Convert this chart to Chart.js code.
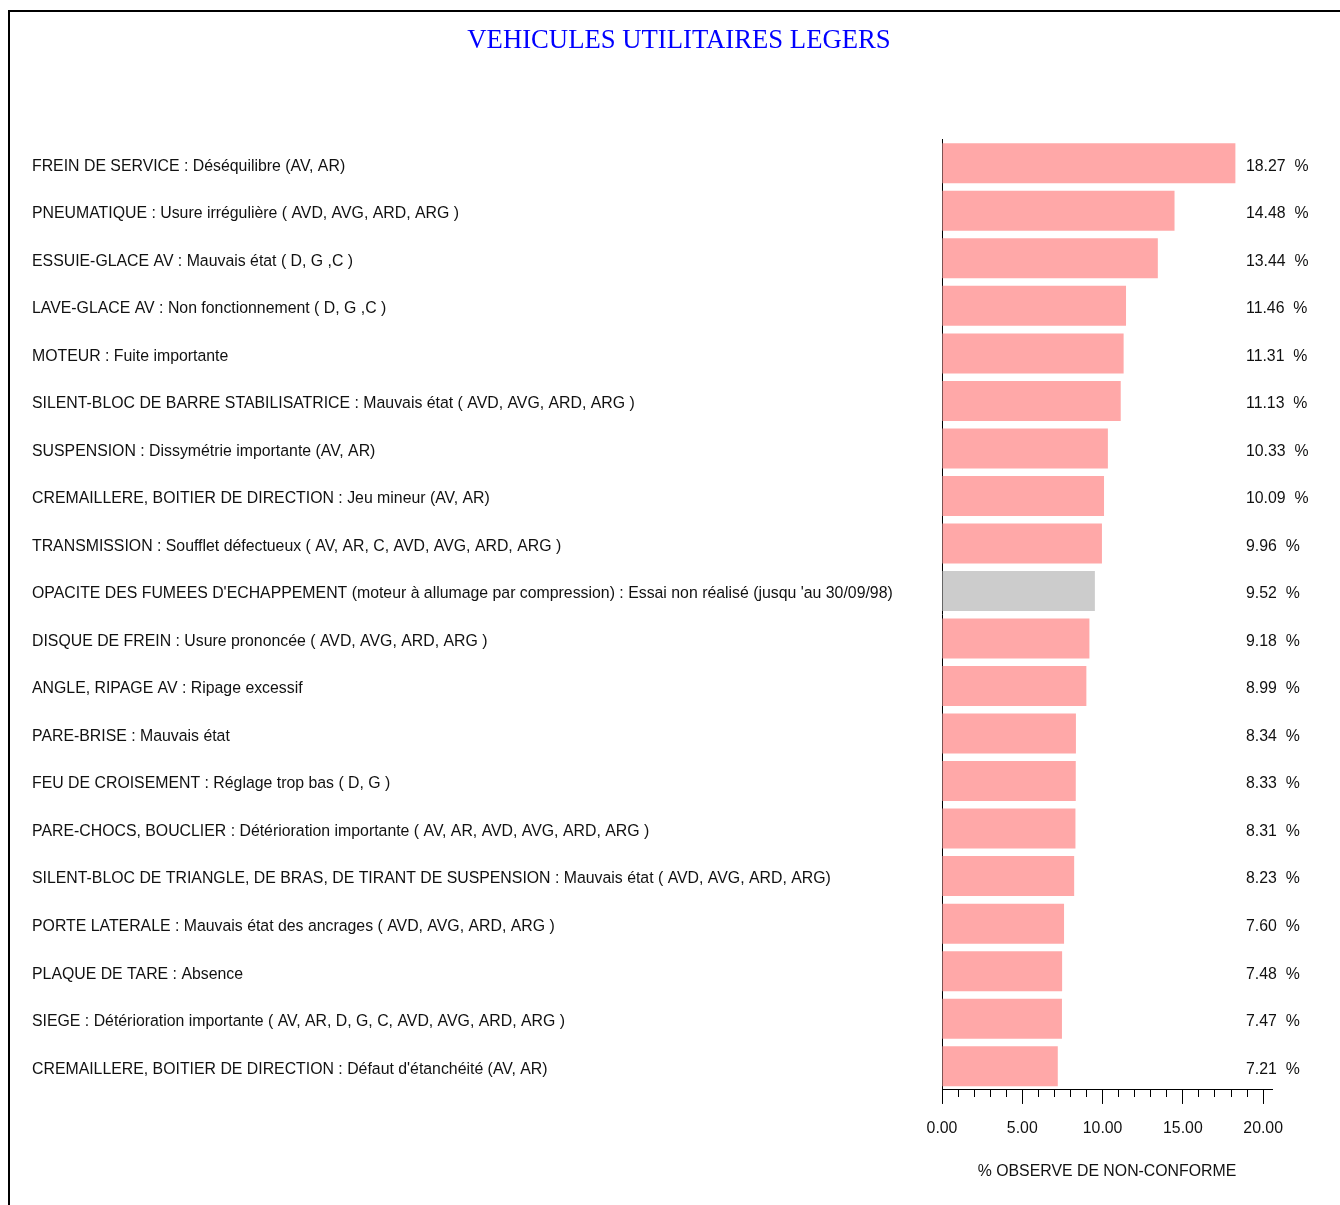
<!DOCTYPE html>
<html>
<head>
<meta charset="utf-8">
<title>Véhicules utilitaires légers</title>
<script src="https://cdn.jsdelivr.net/npm/chart.js@4/dist/chart.umd.min.js"></script>
<style>
    html, body { margin: 0; padding: 0; background: #fff; }
    #wrap { position: relative; width: 1340px; height: 1205px; }
    #frame {
        position: absolute; left: 8px; top: 10px; right: -10px; bottom: -10px;
        border-left: 2px solid #000; border-top: 2px solid #000;
    }
    #chart { position: absolute; left: 0; top: 0; }
</style>
</head>
<body>
<div id="wrap">
    <div id="frame"></div>
    <canvas id="chart" width="1340" height="1205"></canvas>
</div>
<script>
const categories = [
    'FREIN DE SERVICE : Déséquilibre (AV, AR)',
    'PNEUMATIQUE : Usure irrégulière ( AVD, AVG, ARD, ARG )',
    'ESSUIE-GLACE AV : Mauvais état ( D, G ,C )',
    'LAVE-GLACE AV : Non fonctionnement ( D, G ,C )',
    'MOTEUR : Fuite importante',
    'SILENT-BLOC DE BARRE STABILISATRICE : Mauvais état ( AVD, AVG, ARD, ARG )',
    'SUSPENSION : Dissymétrie importante (AV, AR)',
    'CREMAILLERE, BOITIER DE DIRECTION : Jeu mineur (AV, AR)',
    'TRANSMISSION : Soufflet défectueux ( AV, AR, C, AVD, AVG, ARD, ARG )',
    'OPACITE DES FUMEES D\'ECHAPPEMENT (moteur à allumage par compression) : Essai non réalisé (jusqu \'au 30/09/98)',
    'DISQUE DE FREIN : Usure prononcée ( AVD, AVG, ARD, ARG )',
    'ANGLE, RIPAGE AV : Ripage excessif',
    'PARE-BRISE : Mauvais état',
    'FEU DE CROISEMENT : Réglage trop bas ( D, G )',
    'PARE-CHOCS, BOUCLIER : Détérioration importante ( AV, AR, AVD, AVG, ARD, ARG )',
    'SILENT-BLOC DE TRIANGLE, DE BRAS, DE TIRANT DE SUSPENSION : Mauvais état ( AVD, AVG, ARD, ARG)',
    'PORTE LATERALE : Mauvais état des ancrages ( AVD, AVG, ARD, ARG )',
    'PLAQUE DE TARE : Absence',
    'SIEGE : Détérioration importante ( AV, AR, D, G, C, AVD, AVG, ARD, ARG )',
    'CREMAILLERE, BOITIER DE DIRECTION : Défaut d\'étanchéité (AV, AR)'
];
const percentages = [18.27, 14.48, 13.44, 11.46, 11.31, 11.13, 10.33, 10.09, 9.96, 9.52,
                     9.18, 8.99, 8.34, 8.33, 8.31, 8.23, 7.60, 7.48, 7.47, 7.21];
// the grey bar: test not carried out
const greyIndex = 9;
const xTickValues = [0, 5, 10, 15, 20];

const valueLabels = percentages.map(v => v.toFixed(2) + '  %');
const barColors = percentages.map((v, i) => i === greyIndex ? '#cccccc' : '#ffa8a8');

const sans = '"Liberation Sans", Arial, sans-serif';
const fontSize = 15.85;

const ctx = document.getElementById('chart').getContext('2d');

// widest value label, so the mirrored right axis can start its text 26px inside the plot
ctx.font = fontSize + 'px ' + sans;
const widest = Math.max(...valueLabels.map(t => ctx.measureText(t).width));

const chart = new Chart(ctx, {
    type: 'bar',
    data: {
        labels: categories,
        datasets: [{
            data: percentages,
            backgroundColor: barColors,
            borderWidth: 0,
            barPercentage: 0.842,
            categoryPercentage: 1,
            yAxisID: 'y'
        }]
    },
    options: {
        indexAxis: 'y',
        responsive: false,
        animation: false,
        layout: {
            padding: { left: 32, right: 14, top: 0, bottom: 24 }
        },
        scales: {
            x: {
                type: 'linear',
                min: 0,
                max: 20.55,
                border: { display: true, color: '#000', width: 1 },
                grid: {
                    drawOnChartArea: false,
                    drawTicks: true,
                    tickLength: 14,
                    tickColor: '#000',
                    tickWidth: 1,
                    // short ticks for the minor steps
                    tickBorderDash: c => (c.tick && xTickValues.includes(c.tick.value)) ? [] : [7, 40]
                },
                ticks: {
                    stepSize: 1,
                    includeBounds: false,
                    autoSkip: false,
                    maxRotation: 0,
                    padding: 15,
                    color: '#111',
                    font: { family: sans, size: fontSize },
                    callback: v => xTickValues.includes(v) ? v.toFixed(2) : ''
                },
                title: {
                    display: true,
                    text: '% OBSERVE DE NON-CONFORME',
                    color: '#111',
                    font: { family: sans, size: fontSize },
                    padding: { top: 9, bottom: 0 }
                }
            },
            y: {
                type: 'category',
                position: 'left',
                offset: true,
                border: { display: true, color: '#000', width: 1 },
                grid: { display: false, drawTicks: false },
                ticks: {
                    crossAlign: 'far',
                    autoSkip: false,
                    padding: 0,
                    labelOffset: 3,
                    color: '#111',
                    font: { family: sans, size: fontSize }
                },
                afterFit: s => { s.width = 910; }
            },
            y2: {
                type: 'category',
                position: 'right',
                labels: valueLabels,
                offset: true,
                border: { display: false },
                grid: { display: false, drawTicks: false },
                ticks: {
                    mirror: true,
                    crossAlign: 'far',
                    autoSkip: false,
                    padding: widest - 26,
                    labelOffset: 3,
                    color: '#111',
                    font: { family: sans, size: fontSize }
                },
                afterFit: s => { s.width = 54; }
            }
        },
        plugins: {
            legend: { display: false },
            tooltip: { enabled: false },
            title: {
                display: true,
                text: 'VEHICULES UTILITAIRES LEGERS',
                color: '#0000ff',
                font: { family: '"Liberation Serif", "Times New Roman", serif', size: 26.7, weight: 'normal' },
                padding: { top: 25, bottom: 82.5 }
            }
        }
    }
});
</script>
</body>
</html>
